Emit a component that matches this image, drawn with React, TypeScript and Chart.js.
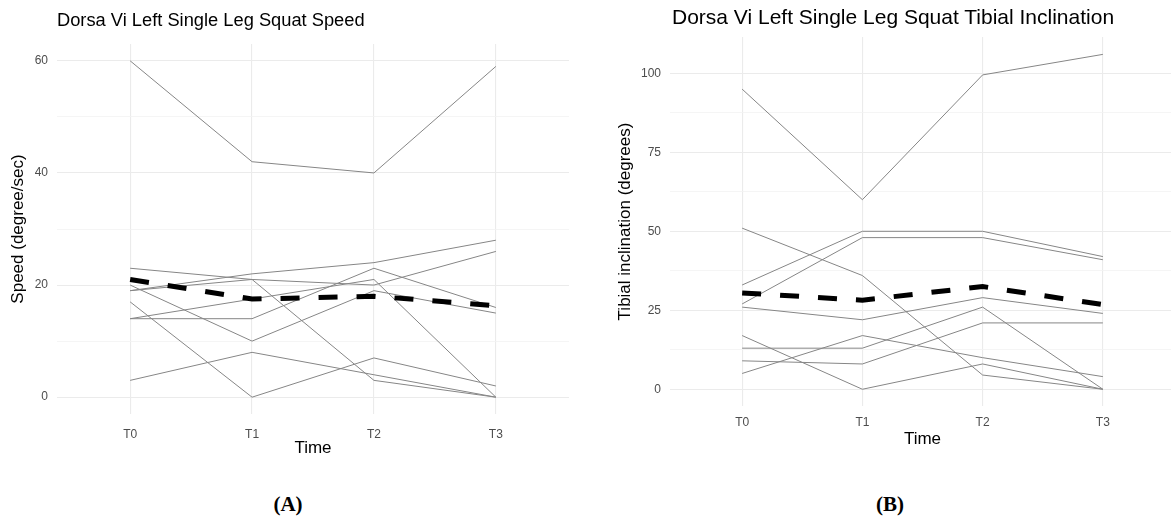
import React, { useEffect, useRef } from 'react';
import { Chart, registerables } from 'chart.js';

Chart.register(...registerables);

// ---------- data ----------
const timeLabels = ['T0', 'T1', 'T2', 'T3'];

// (A) Speed (degree/sec), one array per participant
const speedP1 = [60, 42, 40, 59];
const speedP2 = [23, 21, 20, 26];
const speedP3 = [19, 22, 24, 28];
const speedP4 = [19, 21, 3, 0];
const speedP5 = [20, 10, 19, 15];
const speedP6 = [17, 0, 7, 2];
const speedP7 = [14, 14, 23, 16];
const speedP8 = [14, 17.5, 21, 0];
const speedP9 = [3, 8, 4, 0];
const speedMean = [21, 17.5, 18, 16.3];
const speedTicks = [0, 20, 40, 60];

// (B) Tibial inclination (degrees), one array per participant
const tibP1 = [95, 60, 99.5, 106];
const tibP2 = [51, 36, 4.5, 0];
const tibP3 = [33, 50, 50, 42];
const tibP4 = [27, 48, 48, 41];
const tibP5 = [26, 22, 29, 24];
const tibP6 = [17, 0, 8, 0];
const tibP7 = [13, 13, 26, 0];
const tibP8 = [9, 8, 21, 21];
const tibP9 = [5, 17, 10, 4];
const tibMean = [30.5, 28.2, 32.5, 26.8];
const tibTicks = [0, 25, 50, 75, 100];

const FONT = "'Liberation Sans', Arial, sans-serif";

type PanelOpts = {
  series: number[][];
  mean: number[];
  majorTicks: number[];
  minorStep: number;
  yMin: number;
  yMax: number;
  yTitle: string;
  yAxisWidth: number;
  xAxisHeight: number;
  padTop: number;
  padRight: number;
  yTitlePad: number;
  xTickPad: number;
  xTitlePadBottom: number;
  tickFont: number;
  titleFont: number;
};

function buildConfig(o: PanelOpts): any {
  const toPts = (arr: number[]) => arr.map((v, i) => ({ x: i, y: v }));
  const datasets: any[] = [
    {
      data: toPts(o.mean),
      borderColor: '#000000',
      borderWidth: 5,
      borderDash: [19, 19],
      borderCapStyle: 'butt',
      pointRadius: 0,
      fill: false,
      tension: 0,
    },
    ...o.series.map((s) => ({
      data: toPts(s),
      borderColor: '#868686',
      borderWidth: 1,
      pointRadius: 0,
      fill: false,
      tension: 0,
    })),
  ];
  return {
    type: 'line',
    data: { datasets },
    options: {
      animation: false,
      responsive: false,
      maintainAspectRatio: false,
      layout: { padding: { top: o.padTop, right: o.padRight, left: 0, bottom: 0 } },
      plugins: {
        legend: { display: false },
        tooltip: { enabled: false },
        title: { display: false },
      },
      scales: {
        x: {
          type: 'linear',
          min: -0.6,
          max: 3.6,
          afterFit: (s: any) => {
            s.height = o.xAxisHeight;
          },
          ticks: {
            stepSize: 1,
            includeBounds: false,
            autoSkip: false,
            maxRotation: 0,
            padding: o.xTickPad,
            color: '#4d4d4d',
            font: { family: FONT, size: o.tickFont },
            callback: (v: any) => (timeLabels[v as number] ?? ''),
          },
          grid: { color: '#ebebeb', lineWidth: 1.1, drawTicks: false },
          border: { display: false },
          title: {
            display: true,
            text: 'Time',
            color: '#000000',
            font: { family: FONT, size: o.titleFont },
            padding: { top: 0, bottom: o.xTitlePadBottom },
          },
        },
        y: {
          type: 'linear',
          min: o.yMin,
          max: o.yMax,
          afterFit: (s: any) => {
            s.width = o.yAxisWidth;
          },
          ticks: {
            stepSize: o.minorStep,
            includeBounds: false,
            autoSkip: false,
            padding: 9,
            color: '#4d4d4d',
            font: { family: FONT, size: o.tickFont },
            callback: (v: any) => (o.majorTicks.includes(v as number) ? String(v) : ''),
          },
          grid: {
            drawTicks: false,
            color: (ctx: any) =>
              ctx.tick && o.majorTicks.includes(ctx.tick.value) ? '#ebebeb' : '#f3f3f3',
            lineWidth: (ctx: any) =>
              ctx.tick && o.majorTicks.includes(ctx.tick.value) ? 1.1 : 0.8,
          },
          border: { display: false },
          title: {
            display: true,
            text: o.yTitle,
            color: '#000000',
            font: { family: FONT, size: o.titleFont },
            padding: { top: o.yTitlePad, bottom: 0 },
          },
        },
      },
    },
  };
}

function Panel(props: { opts: PanelOpts; left: number; width: number; height: number }) {
  const ref = useRef<HTMLCanvasElement | null>(null);
  useEffect(() => {
    if (!ref.current) return;
    const chart = new Chart(ref.current, buildConfig(props.opts));
    return () => chart.destroy();
  }, []);
  return (
    <canvas
      ref={ref}
      width={props.width}
      height={props.height}
      style={{ position: 'absolute', left: props.left, top: 0, width: props.width, height: props.height }}
    />
  );
}

export default function App() {
  const speedOpts: PanelOpts = {
    series: [speedP1, speedP2, speedP3, speedP4, speedP5, speedP6, speedP7, speedP8, speedP9],
    mean: speedMean,
    majorTicks: speedTicks,
    minorStep: 10,
    yMin: -3,
    yMax: 63,
    yTitle: 'Speed (degree/sec)',
    yAxisWidth: 57,
    xAxisHeight: 56,
    padTop: 44,
    padRight: 11,
    yTitlePad: 8,
    xTickPad: 13,
    xTitlePadBottom: 11,
    tickFont: 12,
    titleFont: 17,
  };
  const tibOpts: PanelOpts = {
    series: [tibP1, tibP2, tibP3, tibP4, tibP5, tibP6, tibP7, tibP8, tibP9],
    mean: tibMean,
    majorTicks: tibTicks,
    minorStep: 12.5,
    yMin: -5.3,
    yMax: 111.5,
    yTitle: 'Tibial inclination (degrees)',
    yAxisWidth: 70,
    xAxisHeight: 64,
    padTop: 37,
    padRight: 5,
    yTitlePad: 15,
    xTickPad: 9,
    xTitlePadBottom: 20,
    tickFont: 12,
    titleFont: 17,
  };
  return (
    <div
      style={{
        position: 'absolute',
        left: 0,
        top: 0,
        width: 1171,
        height: 523,
        overflow: 'hidden',
        background: '#ffffff',
        fontFamily: FONT,
      }}
    >
      <Panel opts={speedOpts} left={0} width={580} height={470} />
      <Panel opts={tibOpts} left={600} width={580} height={470} />
      <div
        style={{ position: 'absolute', left: 57, top: 11, fontSize: 18.3, lineHeight: '18px', color: '#000', whiteSpace: 'nowrap' }}
      >
        Dorsa Vi Left Single Leg Squat Speed
      </div>
      <div
        style={{ position: 'absolute', left: 672, top: 6, fontSize: 21, lineHeight: '21px', color: '#000', whiteSpace: 'nowrap' }}
      >
        Dorsa Vi Left Single Leg Squat Tibial Inclination
      </div>
      <div
        style={{
          position: 'absolute',
          left: 238,
          width: 100,
          textAlign: 'center',
          top: 492,
          fontSize: 21,
          lineHeight: '24px',
          fontWeight: 'bold',
          fontFamily: "'Liberation Serif', 'DejaVu Serif', serif",
          color: '#000',
        }}
      >
        (A)
      </div>
      <div
        style={{
          position: 'absolute',
          left: 840,
          width: 100,
          textAlign: 'center',
          top: 492,
          fontSize: 21,
          lineHeight: '24px',
          fontWeight: 'bold',
          fontFamily: "'Liberation Serif', 'DejaVu Serif', serif",
          color: '#000',
        }}
      >
        (B)
      </div>
    </div>
  );
}
